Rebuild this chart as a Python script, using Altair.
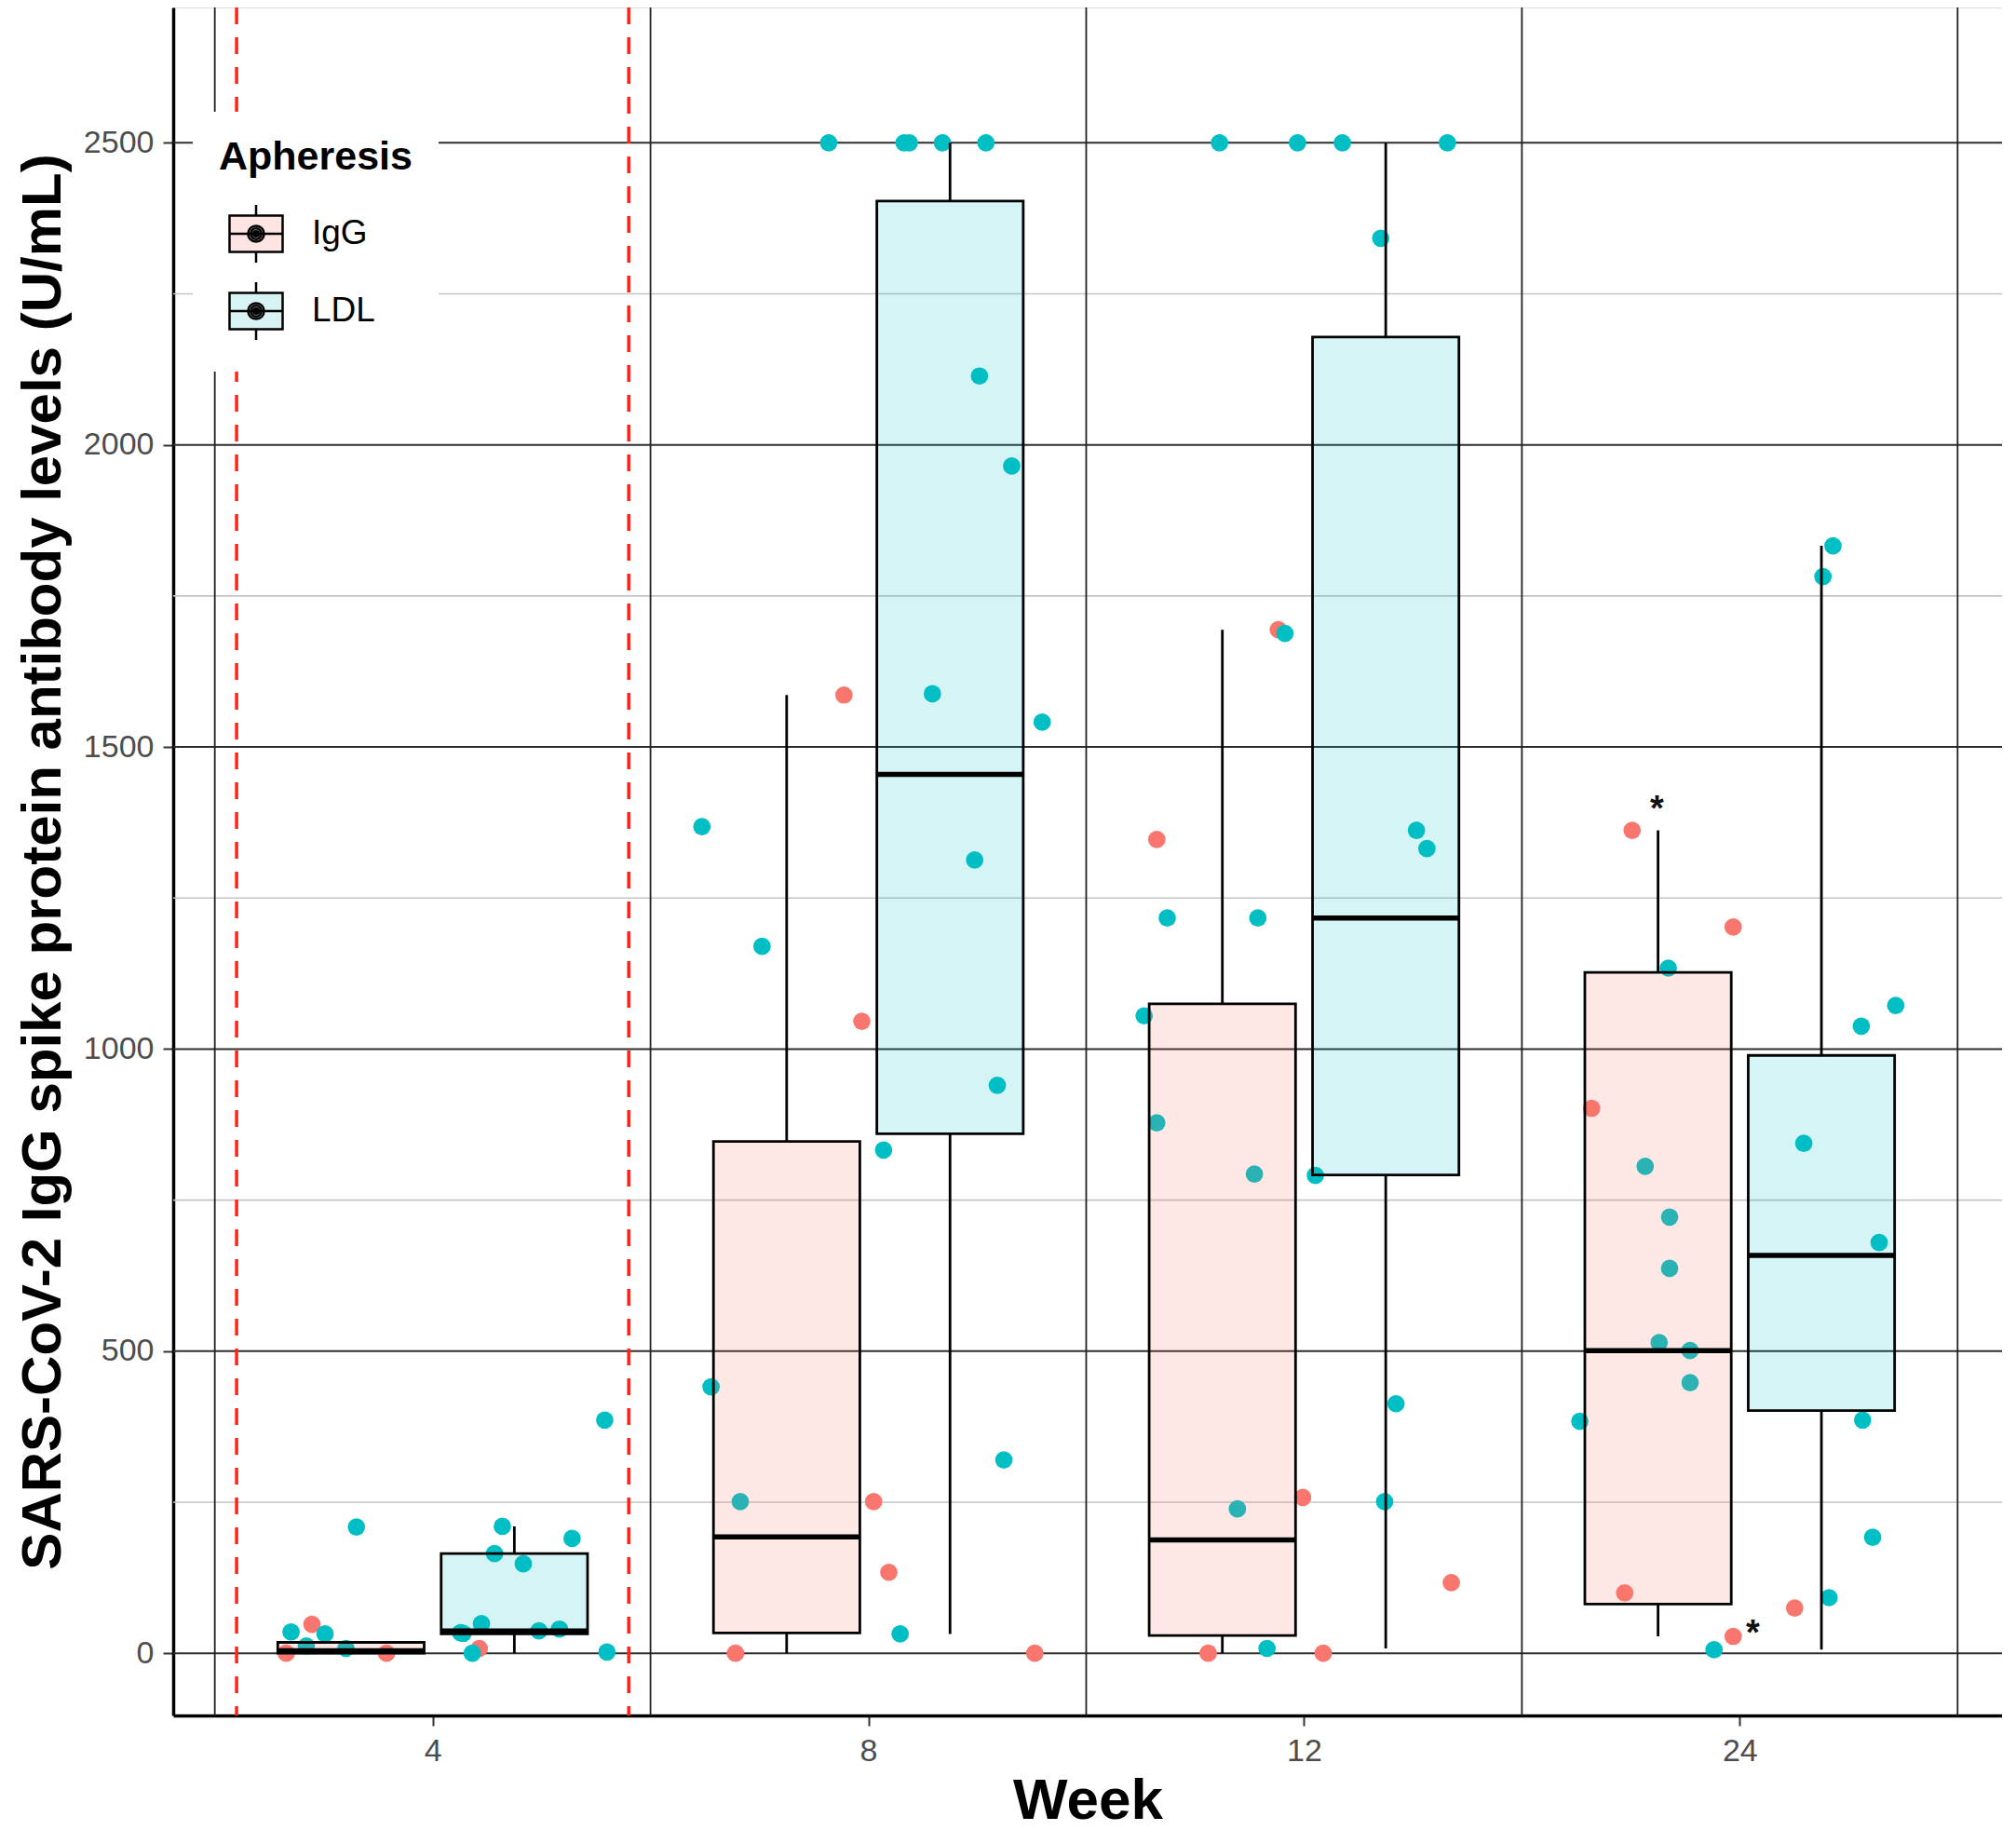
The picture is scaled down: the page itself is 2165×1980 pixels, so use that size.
import altair as alt
import numpy as np
import pandas as pd

# ---------------- data ----------------
week_labels = ["4", "8", "12", "24"]
groups = ["IgG", "LDL"]
point_colors = ["#F8766D", "#00BFC4"]
legend_fills = ["#FEE5E3", "#D8F3F3"]

# IgG apheresis (red) values per week and their horizontal jitter (category units)
igg_w4 = [48, 0, 0, 8]
igg_w4_jit = [-0.277, -0.336, -0.106, 0.107]
igg_w8 = [1586, 1046, 251, 134, 0, 0]
igg_w8_jit = [-0.056, -0.015, 0.012, 0.047, -0.305, 0.382]
igg_w12 = [1694, 1347, 258, 117, 0, 0]
igg_w12_jit = [-0.059, -0.338, -0.003, 0.338, -0.220, 0.044]
igg_w24 = [1362, 1202, 902, 100, 75, 28]
igg_w24_jit = [-0.247, -0.015, -0.340, -0.264, 0.126, -0.015]

# LDL apheresis (teal) values per week and their jitter
ldl_w4 = [35, 32, 12, 8, 209, 210, 165, 148, 190, 386, 2, 34, 33, 49, 37, 40, 0]
ldl_w4_jit = [-0.325, -0.247, -0.290, -0.199, -0.175, 0.160, 0.142, 0.208, 0.320,
              0.395, 0.400, 0.064, 0.070, 0.112, 0.244, 0.291, 0.091]
ldl_w8 = [2500, 2500, 2500, 2500, 2500, 2114, 1965, 1588, 1541, 1368, 1313, 1170,
          940, 833, 441, 251, 320, 32]
ldl_w8_jit = [-0.091, 0.082, 0.094, 0.170, 0.270, 0.255, 0.329, 0.147, 0.399, -0.382,
              0.244, -0.244, 0.296, 0.035, -0.361, -0.294, 0.311, 0.073]
ldl_w12 = [2500, 2500, 2500, 2500, 2342, 1688, 1362, 1332, 1217, 1217, 1055, 878,
           793, 791, 413, 239, 251, 8]
ldl_w12_jit = [-0.194, -0.015, 0.088, 0.329, 0.176, -0.044, 0.258, 0.282, -0.314,
               -0.106, -0.367, -0.338, -0.114, 0.026, 0.211, -0.153, 0.185, -0.085]
ldl_w24 = [1833, 1782, 1072, 1038, 1134, 844, 806, 722, 637, 680, 514, 501, 448,
           384, 386, 192, 92, 6]
ldl_w24_jit = [0.214, 0.191, 0.358, 0.279, -0.164, 0.147, -0.217, -0.161, -0.161,
               0.320, -0.185, -0.114, -0.114, -0.367, 0.282, 0.305, 0.205, -0.059]

# significance asterisks (x in week-index units, y in U/mL)
star_x = [3.81, 4.03]
star_y = [1407, 43]

major_ticks = [0, 500, 1000, 1500, 2000, 2500]
minor_ticks = [250, 750, 1250, 1750, 2250]

# ---------------- tables ----------------
series = {
    "IgG": ([igg_w4, igg_w8, igg_w12, igg_w24],
            [igg_w4_jit, igg_w8_jit, igg_w12_jit, igg_w24_jit]),
    "LDL": ([ldl_w4, ldl_w8, ldl_w12, ldl_w24],
            [ldl_w4_jit, ldl_w8_jit, ldl_w12_jit, ldl_w24_jit]),
}

pt_rows, box_rows = [], []
for g in groups:
    vals_list, jit_list = series[g]
    for wi, w in enumerate(week_labels):
        vals = np.asarray(vals_list[wi], dtype=float)
        for v, j in zip(vals_list[wi], jit_list[wi]):
            pt_rows.append({"group": g, "week": w, "idx": wi + 1, "value": v, "jitter": j})
        q1, med, q3 = np.percentile(vals, [25, 50, 75])
        iqr = q3 - q1
        lo = vals[vals >= q1 - 1.5 * iqr].min()
        hi = vals[vals <= q3 + 1.5 * iqr].max()
        box_rows.append({"group": g, "week": w, "idx": wi + 1, "q1": q1, "med": med,
                         "q3": q3, "lo": lo, "hi": max(hi, q3)})

pts = pd.DataFrame(pt_rows)
boxes = pd.DataFrame(box_rows)
bounds = pd.DataFrame({"b": [i + 0.5 for i in range(len(week_labels) + 1)]})
dashes = pd.DataFrame({"b": [1 - 0.45, 1 + 0.45]})
gmaj = pd.DataFrame({"v": major_ticks})
gmin = pd.DataFrame({"v": minor_ticks})
stars = pd.DataFrame({"sx": star_x, "sy": star_y})

# ---------------- scales / axes ----------------
FONT = "Liberation Sans"
xscale = alt.Scale(domain=[0.4045, 4.602], nice=False, zero=False)
yscale = alt.Scale(domain=[-103, 2724], nice=False, zero=False)
label_js = "[" + ",".join("'%s'" % w for w in week_labels) + "][datum.value - 1]"

xaxis = alt.Axis(values=[i + 1 for i in range(len(week_labels))], labelExpr=label_js,
                 title="Week", grid=False, titleFontSize=62, titleFontWeight="bold",
                 titleColor="black", titlePadding=6, labelFontSize=34,
                 labelColor="#4D4D4D", labelPadding=10, tickColor="#333333",
                 tickSize=11, tickWidth=2, domainColor="black", domainWidth=3.5,
                 labelFont=FONT, titleFont=FONT)
yaxis = alt.Axis(values=major_ticks, format="d", grid=False,
                 title="SARS-CoV-2 IgG spike protein antibody levels (U/mL)",
                 titleFontSize=60, titleFontWeight="bold", titleColor="black",
                 titlePadding=12, labelFontSize=34, labelColor="#4D4D4D",
                 labelPadding=10, tickColor="#333333", tickSize=11, tickWidth=2,
                 domainColor="black", domainWidth=3.5, labelFont=FONT, titleFont=FONT)


def X(f):
    return alt.X(f, type="quantitative", scale=xscale, axis=xaxis)


def Y(f):
    return alt.Y(f, type="quantitative", scale=yscale, axis=yaxis)


dodge = "(datum.group == 'IgG' ? -0.1875 : 0.1875)"
half = 0.168

minor_grid = alt.Chart(gmin).mark_rule(color="#C4C4C4", strokeWidth=1.6).encode(y=Y("v"))
major_grid = alt.Chart(gmaj).mark_rule(color="#2E2E2E", strokeWidth=2).encode(y=Y("v"))
vlines = alt.Chart(bounds).mark_rule(color="#222222", strokeWidth=1.8).encode(x=X("b"))
red_dash = alt.Chart(dashes).mark_rule(color="#FF2418", strokeWidth=3.5,
                                       strokeDash=[18, 14]).encode(x=X("b"))

points = alt.Chart(pts).transform_calculate(xp="datum.idx + datum.jitter").mark_circle(
    size=350, opacity=1).encode(
    x=X("xp"), y=Y("value"),
    color=alt.Color("group:N", scale=alt.Scale(domain=groups, range=point_colors),
                    legend=None))

box_base = alt.Chart(boxes).transform_calculate(
    xc="datum.idx + " + dodge,
    xl="datum.idx + " + dodge + " - %f" % half,
    xr="datum.idx + " + dodge + " + %f" % half)

box_rect = box_base.mark_rect(stroke="black", strokeWidth=2.8, fillOpacity=0.17).encode(
    x=X("xl"), x2="xr", y=Y("q1"), y2="q3",
    fill=alt.Fill("group:N", scale=alt.Scale(domain=groups, range=point_colors),
                  legend=None))
whisk_up = box_base.mark_rule(color="black", strokeWidth=2.8).encode(
    x=X("xc"), y=Y("q3"), y2="hi")
whisk_lo = box_base.mark_rule(color="black", strokeWidth=2.8).encode(
    x=X("xc"), y=Y("lo"), y2="q1")
medians = box_base.mark_rule(color="black", strokeWidth=5.5).encode(
    x=X("xl"), x2="xr", y=Y("med"))

star_text = alt.Chart(stars).mark_text(text="*", font=FONT, fontSize=38,
                                       fontWeight="bold", color="#111111",
                                       baseline="middle", dy=8).encode(
    x=X("sx"), y=Y("sy"))

glyph = ("M-1,-0.68H1V0.68H-1Z M-1,0H1 M0,-0.68V-1.09 M0,0.68V1.09 "
         "M-0.3,0A0.3,0.3 0 1,0 0.3,0A0.3,0.3 0 1,0 -0.3,0Z "
         "M-0.2,0A0.2,0.2 0 1,0 0.2,0A0.2,0.2 0 1,0 -0.2,0Z "
         "M-0.1,0A0.1,0.1 0 1,0 0.1,0A0.1,0.1 0 1,0 -0.1,0Z "
         "M-0.03,0A0.03,0.03 0 1,0 0.03,0A0.03,0.03 0 1,0 -0.03,0Z")

legend_layer = box_base.transform_filter("false").mark_rect(
    stroke="black", strokeWidth=2.5).encode(
    x=X("xl"), x2="xr", y=Y("q1"), y2="q3",
    fill=alt.Fill("group:N", scale=alt.Scale(domain=groups, range=legend_fills),
                  legend=alt.Legend(title="Apheresis", orient="none", legendX=21,
                                    legendY=112, titleFontSize=43,
                                    titleFontWeight="bold", titleColor="black",
                                    titleFont=FONT, titlePadding=30, titleLimit=600,
                                    labelFont=FONT, labelFontSize=37,
                                    labelColor="black", labelOffset=30,
                                    symbolType=glyph, symbolSize=3249,
                                    symbolStrokeColor="black", symbolStrokeWidth=2.5,
                                    symbolOffset=10, rowPadding=9, padding=28,
                                    fillColor="white")))

chart = alt.layer(
    minor_grid, major_grid, vlines, red_dash, points, box_rect, whisk_up, whisk_lo,
    medians, star_text, legend_layer
).resolve_scale(fill="independent").properties(
    width=1964, height=1834,
    autosize=alt.AutoSizeParams(type="none"),
    padding={"left": 178, "top": 0, "right": 0, "bottom": 126},
    background="white",
).configure_view(stroke=None).configure(font=FONT)

chart.save("out.html", embed_options={"renderer": "svg", "actions": False})
